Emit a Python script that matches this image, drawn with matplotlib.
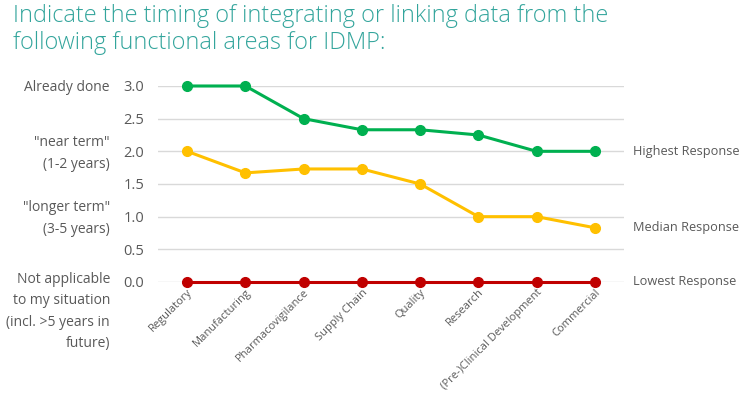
import matplotlib.pyplot as plt
from matplotlib.transforms import blended_transform_factory

plt.rcParams['font.family'] = ['Open Sans', 'DejaVu Sans']

# data
areas = ['Regulatory', 'Manufacturing', 'Pharmacovigilance', 'Supply Chain', 'Quality',
         'Research', '(Pre-)Clinical Development', 'Commercial']
highest = [3.0, 3.0, 2.5, 2.33, 2.33, 2.25, 2.0, 2.0]
median = [2.0, 1.67, 1.73, 1.73, 1.5, 1.0, 1.0, 0.83]
lowest = [0, 0, 0, 0, 0, 0, 0, 0]
series_names = ['Highest Response', 'Median Response', 'Lowest Response']
level_labels = ['Already done', '"near term"\n(1-2 years)', '"longer term"\n(3-5 years)',
                'Not applicable\nto my situation\n(incl. >5 years in\nfuture)']
level_values = [3.0, 2.0, 1.0, 0.0]

gray = '#595959'
fig = plt.figure(figsize=(7.43, 3.97), dpi=100)
ax = fig.add_axes([0.2127, 0.2897, 0.6271, 0.4937])

x = range(len(areas))
colors = ['#00B050', '#FFC000', '#C00000']
for vals, c in zip([highest, median, lowest], colors):
    ax.plot(x, vals, color=c, lw=2.2, marker='o', ms=7, clip_on=False, zorder=3)

ax.set_xlim(-0.5, len(areas) - 0.5)
ax.set_ylim(0, 3)
ax.set_yticks([0, 0.5, 1.0, 1.5, 2.0, 2.5, 3.0])
ax.set_yticklabels([f'{v:.1f}' for v in [0, 0.5, 1.0, 1.5, 2.0, 2.5, 3.0]])
ax.grid(axis='y', color='#D9D9D9', lw=1)
ax.set_axisbelow(True)
for s in ax.spines.values():
    s.set_visible(False)
ax.tick_params(axis='both', length=0, colors=gray, labelsize=10.5)
ax.tick_params(axis='y', pad=10)
ax.set_xticks(list(x))
ax.set_xticklabels(areas, rotation=45, ha='right', rotation_mode='anchor', fontsize=8)

# left side level descriptions
trans = blended_transform_factory(fig.transFigure, ax.transData)
for lab, v in zip(level_labels, level_values):
    if lab.count('\n') > 1:
        ax.annotate(lab, xy=(0.148, v), xycoords=trans, xytext=(0, 7.5), textcoords='offset points',
                    ha='right', va='top', color=gray, fontsize=10, linespacing=1.6)
    else:
        ax.text(0.148, v - 0.03, lab, transform=trans, ha='right', va='center',
                color=gray, fontsize=10, linespacing=1.6)

# right side series names
for name, vals in zip(series_names, [highest, median, lowest]):
    ax.text(1.02, vals[-1], name, transform=ax.get_yaxis_transform(), ha='left', va='center',
            color=gray, fontsize=9.2)

fig.text(0.018, 0.99, 'Indicate the timing of integrating or linking data from the\nfollowing functional areas for IDMP:',
         ha='left', va='top', color='#33A59C', fontsize=16.9, fontweight='light', linespacing=1.15)

fig.savefig('out.png', dpi=100)
